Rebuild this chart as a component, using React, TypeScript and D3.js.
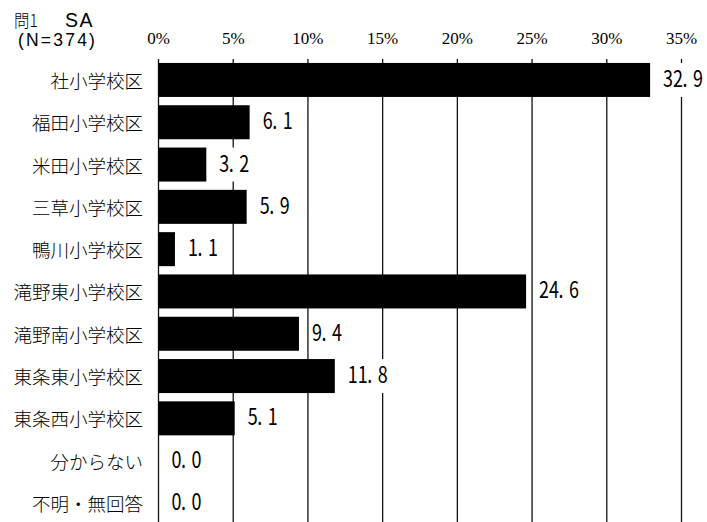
import React from "react";
import * as d3 from "d3";

// 問1 SA — 小学校区別の回答割合（%）
const categories: string[] = [
  "社小学校区",
  "福田小学校区",
  "米田小学校区",
  "三草小学校区",
  "鴨川小学校区",
  "滝野東小学校区",
  "滝野南小学校区",
  "東条東小学校区",
  "東条西小学校区",
  "分からない",
  "不明・無回答",
];
const values: number[] = [32.9, 6.1, 3.2, 5.9, 1.1, 24.6, 9.4, 11.8, 5.1, 0.0, 0.0];
const tickValues: number[] = [0, 5, 10, 15, 20, 25, 30, 35];
const questionLabel = "問1";
const typeLabel = "SA";
const sampleLabel = "(N=374)";

const W = 707;
const H = 522;
const JP = "'Noto Sans CJK JP', 'Noto Sans', sans-serif";
const SANS = "'Liberation Sans', Arial, sans-serif";
const SERIF = "'Liberation Serif', 'DejaVu Serif', serif";

export default function App() {
  const x = d3.scaleLinear().domain([0, 35]).range([158.5, 681.5]);
  const y = d3
    .scaleBand<string>()
    .domain(categories)
    .range([58.8, 58.8 + 42.3 * categories.length])
    .paddingInner(0.196)
    .paddingOuter(0.098);
  const bw = y.bandwidth();
  const fmt = d3.format(".1f");
  const cellW = 10; // fixed advance of one value-label glyph
  const sx = 0.78; // horizontal squeeze of value-label glyphs

  return (
    <svg
      width={W}
      height={H}
      viewBox={`0 0 ${W} ${H}`}
      style={{ position: "absolute", left: 0, top: 0, background: "#fff" }}
    >
      {/* header */}
      <g fill="#000">
        <text
          transform="translate(14,27) scale(0.88,1)"
          fontFamily={JP}
          fontWeight={300}
          fontSize={17.5}
        >
          {questionLabel}
        </text>
        <text x={65} y={27} fontFamily={SANS} fontSize={19.5} letterSpacing={1.5}>
          {typeLabel}
        </text>
        <text x={18} y={45.5} fontFamily={SANS} fontSize={17.5} letterSpacing={2.2}>
          {sampleLabel}
        </text>
      </g>

      {/* tick labels */}
      {tickValues.map((t) => (
        <text
          key={`t${t}`}
          x={x(t)}
          y={44}
          textAnchor="middle"
          fontFamily={SERIF}
          fontSize={17}
          fill="#000"
        >
          {`${t}%`}
        </text>
      ))}

      {/* vertical gridlines */}
      {tickValues.map((t) => (
        <line
          key={`g${t}`}
          x1={x(t)}
          x2={x(t)}
          y1={59}
          y2={H}
          stroke="#111"
          strokeWidth={1.3}
        />
      ))}

      {/* bars */}
      {categories.map((c, i) => (
        <rect
          key={`b${c}`}
          x={x(0)}
          y={y(c)!}
          width={Math.max(0, x(values[i]) - x(0))}
          height={bw}
          fill="#000"
        />
      ))}

      {/* value labels with white backing */}
      {categories.map((c, i) => {
        const s = fmt(values[i]);
        const lx = x(values[i]) + 12.5;
        const cy = y(c)! + bw / 2;
        const tw = s.length * cellW;
        const xs = s
          .split("")
          .map((ch, k) => (k * cellW + (ch === "." ? 0 : 0.5)) / sx)
          .join(" ");
        return (
          <g key={`v${c}`}>
            <rect x={lx - 2} y={y(c)!} width={tw + 4} height={bw} fill="#fff" />
            <text
              transform={`translate(${lx},${cy + 7}) scale(${sx},1)`}
              x={xs}
              fontFamily={JP}
              fontWeight={400}
              fontSize={23}
              fill="#000"
            >
              {s}
            </text>
          </g>
        );
      })}

      {/* category labels */}
      {categories.map((c) => (
        <text
          key={`c${c}`}
          x={143}
          y={y(c)! + bw / 2}
          dominantBaseline="central"
          textAnchor="end"
          fontFamily={JP}
          fontWeight={300}
          fontSize={18.5}
          fill="#000"
        >
          {c}
        </text>
      ))}
    </svg>
  );
}
